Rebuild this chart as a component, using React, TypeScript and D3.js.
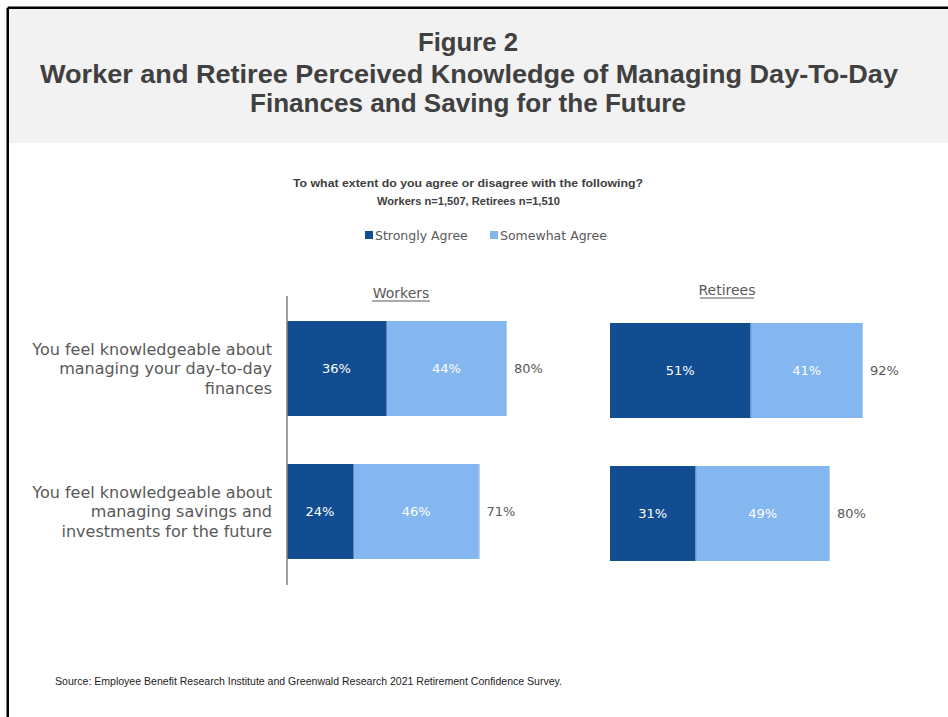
import React from "react";
import * as d3 from "d3";

const categories = ["day", "save"];
const categoryLabels = [
  ["You feel knowledgeable about", "managing your day-to-day", "finances"],
  ["You feel knowledgeable about", "managing savings and", "investments for the future"],
];
const groups = ["Workers", "Retirees"];
const seriesNames = ["Strongly Agree", "Somewhat Agree"];
const workersStrongly = [36, 24];
const workersSomewhat = [44, 46];
const workersTotal = [80, 71];
const retireesStrongly = [51, 31];
const retireesSomewhat = [41, 49];
const retireesTotal = [92, 80];

const DARK = "#124D92";
const LIGHT = "#84B6EF";
const TEXT = "#595959";
const TITLE = "#404040";
const BODY_FONT = "'DejaVu Sans', sans-serif";
const HEAD_FONT = "'Liberation Sans', Arial, sans-serif";

export default function App() {
  const W = 948;
  const H = 717;
  const x = d3.scaleLinear().domain([0, 100]).range([0, 275]);
  const y = d3
    .scaleBand<string>()
    .domain(categories)
    .range([296, 584])
    .paddingInner(48 / 143)
    .paddingOuter(0.175);

  const panels = [
    { name: groups[0], x0: 287, dy: 0, s: workersStrongly, m: workersSomewhat, t: workersTotal, axis: true, headY: 298 },
    { name: groups[1], x0: 610, dy: 2, s: retireesStrongly, m: retireesSomewhat, t: retireesTotal, axis: false, headY: 295 },
  ];

  return (
    <svg
      width={W}
      height={H}
      style={{ position: "absolute", left: 0, top: 0, background: "#fff" }}
    >
      <rect x={9} y={9} width={W - 9} height={134} fill="#F2F2F2" />
      <line x1={7.75} y1={7.75} x2={W} y2={7.75} stroke="#000" strokeWidth={2.5} />
      <line x1={7.75} y1={7.75} x2={7.75} y2={H} stroke="#000" strokeWidth={2.5} />

      <g fontFamily={HEAD_FONT} fontWeight="bold" fill={TITLE} textAnchor="middle" fontSize={26}>
        <text x={468} y={51} textLength={100} lengthAdjust="spacingAndGlyphs">Figure 2</text>
        <text x={469} y={83} textLength={858} lengthAdjust="spacingAndGlyphs">
          Worker and Retiree Perceived Knowledge of Managing Day-To-Day
        </text>
        <text x={468} y={112} textLength={436} lengthAdjust="spacingAndGlyphs">
          Finances and Saving for the Future
        </text>
      </g>

      <g fontFamily={HEAD_FONT} fontWeight="bold" fill={TITLE} textAnchor="middle" fontSize={11.5}>
        <text x={468} y={187} textLength={350} lengthAdjust="spacingAndGlyphs">
          To what extent do you agree or disagree with the following?
        </text>
        <text x={468.5} y={205} textLength={183} lengthAdjust="spacingAndGlyphs">
          Workers n=1,507, Retirees n=1,510
        </text>
      </g>

      <g fontFamily={BODY_FONT} fontSize={12.5} fill={TEXT}>
        <rect x={365} y={231} width={8} height={8} fill={DARK} />
        <text x={375} y={240}>{seriesNames[0]}</text>
        <rect x={490} y={231} width={8} height={8} fill={LIGHT} />
        <text x={500} y={240}>{seriesNames[1]}</text>
      </g>

      <g fontFamily={BODY_FONT} fontSize={16} fill={TEXT} textAnchor="end">
        {categories.map((c, i) => {
          const cy = (y(c) as number) + y.bandwidth() / 2;
          return categoryLabels[i].map((line, j) => (
            <text key={c + j} x={272} y={cy + (j - 1) * 19.5} dy="0.35em">
              {line}
            </text>
          ));
        })}
      </g>

      {panels.map((p) => {
        const headW = p.name === "Workers" ? 58 : 54;
        const headCx = p.name === "Workers" ? 401 : 727;
        return (
          <g key={p.name}>
            <text
              x={headCx}
              y={p.headY}
              textAnchor="middle"
              fontFamily={BODY_FONT}
              fontSize={14}
              fill={TEXT}
            >
              {p.name}
            </text>
            <line
              x1={headCx - headW / 2}
              x2={headCx + headW / 2}
              y1={p.headY + 3}
              y2={p.headY + 3}
              stroke={TEXT}
              strokeWidth={1}
            />
            {categories.map((c, i) => {
              const by = (y(c) as number) + p.dy;
              const bh = y.bandwidth();
              const xs = p.x0;
              const xm = p.x0 + x(p.s[i]);
              const xe = xm + x(p.m[i]);
              const cy = by + bh / 2;
              return (
                <g key={c}>
                  <rect x={xs} y={by} width={xm - xs} height={bh} fill={DARK} />
                  <rect x={xm} y={by} width={xe - xm} height={bh} fill={LIGHT} />
                  <line x1={xm + 0.5} x2={xm + 0.5} y1={by} y2={by + bh} stroke="#5C86BE" strokeWidth={1} />
                  <line x1={xe - 0.5} x2={xe - 0.5} y1={by} y2={by + bh} stroke="#A9CCF5" strokeWidth={1} />
                  <g fontFamily={BODY_FONT} fontSize={13} textAnchor="middle" fill="#fff">
                    <text x={(xs + xm) / 2} y={cy} dy="0.35em">{p.s[i]}%</text>
                    <text x={(xm + xe) / 2} y={cy} dy="0.35em">{p.m[i]}%</text>
                  </g>
                  <text
                    x={xe + 7}
                    y={cy}
                    dy="0.35em"
                    fontFamily={BODY_FONT}
                    fontSize={13}
                    fill={TEXT}
                  >
                    {p.t[i]}%
                  </text>
                </g>
              );
            })}
            {p.axis && (
              <line x1={p.x0} x2={p.x0} y1={296} y2={585} stroke="#808080" strokeWidth={1.5} />
            )}
          </g>
        );
      })}

      <text x={55} y={685} fontFamily={HEAD_FONT} fontSize={10.5} fill="#222" textLength={507} lengthAdjust="spacingAndGlyphs">
        Source: Employee Benefit Research Institute and Greenwald Research 2021 Retirement Confidence Survey.
      </text>
    </svg>
  );
}
